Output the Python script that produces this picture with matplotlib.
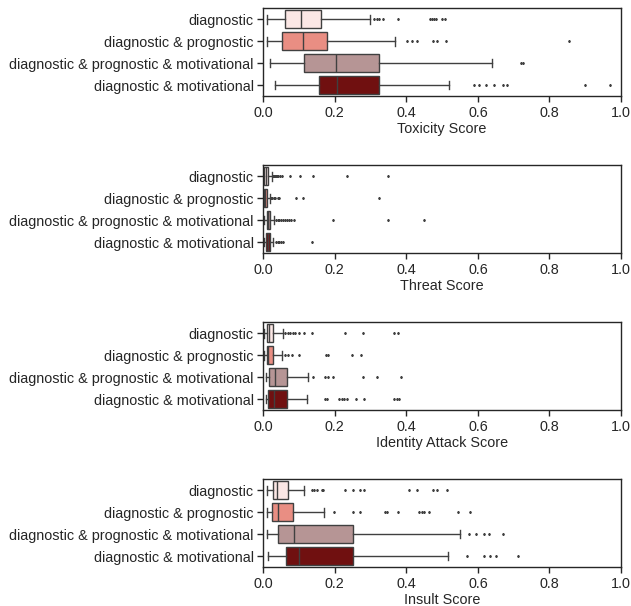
import colorsys
import matplotlib
matplotlib.use("Agg")
import matplotlib.pyplot as plt
from matplotlib import colors as mcolors

categories = ["diagnostic", "diagnostic & prognostic",
              "diagnostic & prognostic & motivational", "diagnostic & motivational"]
palette = ["mistyrose", "salmon", "rosybrown", "maroon"]

# toxicity
tox_lo = [0.011, 0.011, 0.020, 0.033]
tox_q1 = [0.061, 0.051, 0.113, 0.157]
tox_med = [0.104, 0.111, 0.202, 0.205]
tox_q3 = [0.160, 0.179, 0.324, 0.323]
tox_hi = [0.298, 0.367, 0.639, 0.520]
tox_fliers = [
    [0.310, 0.317, 0.324, 0.334, 0.377, 0.466, 0.471, 0.477, 0.482, 0.499, 0.509],
    [0.401, 0.417, 0.429, 0.474, 0.485, 0.510, 0.856],
    [0.720, 0.727],
    [0.590, 0.603, 0.623, 0.646, 0.669, 0.682, 0.899, 0.969],
]

# threat
thr_lo = [0.000, 0.000, 0.002, 0.003]
thr_q1 = [0.003, 0.003, 0.009, 0.008]
thr_med = [0.007, 0.006, 0.014, 0.012]
thr_q3 = [0.012, 0.010, 0.019, 0.019]
thr_hi = [0.024, 0.018, 0.031, 0.028]
thr_fliers = [
    [0.026, 0.029, 0.032, 0.035, 0.038, 0.042, 0.046, 0.051, 0.075, 0.103, 0.140, 0.235, 0.349],
    [0.021, 0.025, 0.029, 0.033, 0.040, 0.044, 0.091, 0.112, 0.324],
    [0.036, 0.040, 0.045, 0.050, 0.055, 0.060, 0.066, 0.072, 0.078, 0.087, 0.194, 0.349, 0.450],
    [0.035, 0.040, 0.045, 0.050, 0.055, 0.137],
]

# identity attack
ida_lo = [0.002, 0.002, 0.007, 0.007]
ida_q1 = [0.011, 0.009, 0.017, 0.014]
ida_med = [0.016, 0.014, 0.033, 0.030]
ida_q3 = [0.028, 0.028, 0.065, 0.065]
ida_hi = [0.054, 0.051, 0.124, 0.121]
ida_fliers = [
    [0.061, 0.068, 0.075, 0.082, 0.090, 0.100, 0.115, 0.135, 0.228, 0.280, 0.366, 0.377],
    [0.061, 0.070, 0.080, 0.100, 0.175, 0.182, 0.247, 0.273],
    [0.140, 0.173, 0.180, 0.196, 0.280, 0.317, 0.384],
    [0.173, 0.177, 0.212, 0.219, 0.226, 0.233, 0.259, 0.282, 0.366, 0.373, 0.380],
]

# insult
ins_lo = [0.009, 0.009, 0.011, 0.014]
ins_q1 = [0.026, 0.023, 0.042, 0.063]
ins_med = [0.037, 0.040, 0.086, 0.100]
ins_q3 = [0.068, 0.084, 0.250, 0.250]
ins_hi = [0.115, 0.170, 0.550, 0.516]
ins_fliers = [
    [0.135, 0.143, 0.149, 0.163, 0.168, 0.228, 0.250, 0.270, 0.282, 0.407, 0.429, 0.475, 0.485, 0.514],
    [0.199, 0.250, 0.270, 0.340, 0.345, 0.377, 0.435, 0.445, 0.450, 0.464, 0.545, 0.579],
    [0.576, 0.595, 0.617, 0.632, 0.669],
    [0.569, 0.617, 0.634, 0.651, 0.711],
]

panels = [
    ("Toxicity Score", tox_lo, tox_q1, tox_med, tox_q3, tox_hi, tox_fliers),
    ("Threat Score", thr_lo, thr_q1, thr_med, thr_q3, thr_hi, thr_fliers),
    ("Identity Attack Score", ida_lo, ida_q1, ida_med, ida_q3, ida_hi, ida_fliers),
    ("Insult Score", ins_lo, ins_q1, ins_med, ins_q3, ins_hi, ins_fliers),
]


def desat(name, prop=0.75):
    h, l, s = colorsys.rgb_to_hls(*mcolors.to_rgb(name))
    return colorsys.hls_to_rgb(h, l, s * prop)


box_colors = [desat(c) for c in palette]
line_col = "#404040"
text_col = "#262626"

plt.rcParams["font.family"] = ["Liberation Sans", "DejaVu Sans"]
plt.rcParams["font.size"] = 10.4

W, H = 631, 606
fig = plt.figure(figsize=(W / 100, H / 100), dpi=100)

for i, (xlabel, lo, q1, med, q3, hi, fl) in enumerate(panels):
    top = 8.3 + 157 * i
    ax = fig.add_axes([263.3 / W, 1 - (top + 87.7) / H, 357.7 / W, 87.7 / H])
    stats = []
    for j in range(4):
        stats.append({"whislo": lo[j], "q1": q1[j], "med": med[j], "q3": q3[j],
                      "whishi": hi[j], "fliers": fl[j]})
    bp = ax.bxp(stats, positions=range(4), widths=0.8, orientation="horizontal",
                patch_artist=True,
                boxprops=dict(edgecolor=line_col, linewidth=1),
                medianprops=dict(color=line_col, linewidth=1),
                whiskerprops=dict(color=line_col, linewidth=1),
                capprops=dict(color=line_col, linewidth=1),
                flierprops=dict(marker="d", markersize=1.1, markerfacecolor=line_col,
                                markeredgecolor=line_col, linestyle="none"))
    for patch, c in zip(bp["boxes"], box_colors):
        patch.set_facecolor(c)
    ax.set_xlim(0, 1)
    ax.set_ylim(3.5, -0.5)
    ax.set_yticks(range(4))
    ax.set_yticklabels(categories)
    ax.set_xticks([0, 0.2, 0.4, 0.6, 0.8, 1.0])
    ax.set_xticklabels(["0.0", "0.2", "0.4", "0.6", "0.8", "1.0"])
    ax.set_xlabel(xlabel, color=text_col, labelpad=2)
    ax.tick_params(colors=text_col, labelcolor=text_col, length=4, width=1, pad=3)
    for sp in ax.spines.values():
        sp.set_color(text_col)
        sp.set_linewidth(1)

fig.savefig("out.png", dpi=100)
